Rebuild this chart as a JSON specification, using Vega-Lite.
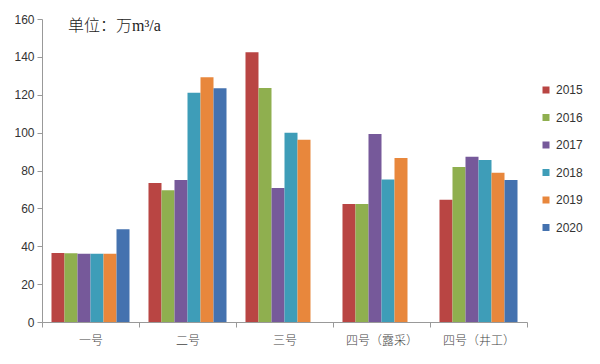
{
  "$schema": "https://vega.github.io/schema/vega-lite/v6.json",
  "width": 485,
  "height": 303,
  "autosize": {"type": "none"},
  "padding": {"left": 42, "top": 19, "right": 73, "bottom": 42},
  "background": "white",
  "title": {
    "text": "单位：万m³/a",
    "anchor": "start",
    "frame": "group",
    "orient": "top",
    "offset": -21,
    "dx": 26,
    "fontSize": 16,
    "fontWeight": 300,
    "font": "Liberation Serif, Noto Sans CJK SC",
    "color": "#222"
  },
  "data": {
    "values": [
      {"mine": "一号", "year": "2015", "value": 36.4},
      {"mine": "一号", "year": "2016", "value": 36.3},
      {"mine": "一号", "year": "2017", "value": 36},
      {"mine": "一号", "year": "2018", "value": 36},
      {"mine": "一号", "year": "2019", "value": 36},
      {"mine": "一号", "year": "2020", "value": 49},
      {"mine": "二号", "year": "2015", "value": 73.4},
      {"mine": "二号", "year": "2016", "value": 69.6},
      {"mine": "二号", "year": "2017", "value": 75},
      {"mine": "二号", "year": "2018", "value": 121},
      {"mine": "二号", "year": "2019", "value": 129.2},
      {"mine": "二号", "year": "2020", "value": 123.4},
      {"mine": "三号", "year": "2015", "value": 142.4},
      {"mine": "三号", "year": "2016", "value": 123.6},
      {"mine": "三号", "year": "2017", "value": 70.8},
      {"mine": "三号", "year": "2018", "value": 100},
      {"mine": "三号", "year": "2019", "value": 96.2},
      {"mine": "四号（露采）", "year": "2015", "value": 62.3},
      {"mine": "四号（露采）", "year": "2016", "value": 62.3},
      {"mine": "四号（露采）", "year": "2017", "value": 99.3},
      {"mine": "四号（露采）", "year": "2018", "value": 75.2},
      {"mine": "四号（露采）", "year": "2019", "value": 86.6},
      {"mine": "四号（井工）", "year": "2015", "value": 64.5},
      {"mine": "四号（井工）", "year": "2016", "value": 81.8},
      {"mine": "四号（井工）", "year": "2017", "value": 87.2},
      {"mine": "四号（井工）", "year": "2018", "value": 85.6},
      {"mine": "四号（井工）", "year": "2019", "value": 78.8},
      {"mine": "四号（井工）", "year": "2020", "value": 75}
    ]
  },
  "mark": {"type": "bar"},
  "encoding": {
    "x": {
      "field": "mine",
      "type": "nominal",
      "sort": null,
      "scale": {"paddingInner": 0, "paddingOuter": 0},
      "axis": {
        "title": null,
        "labelAngle": 0,
        "labelFont": "Noto Sans CJK SC",
        "labelFontSize": 12,
        "labelFontWeight": 300,
        "labelColor": "#444",
        "labelPadding": 8,
        "tickBand": "extent",
        "tickSize": 5,
        "tickColor": "#999",
        "domainColor": "#999"
      }
    },
    "xOffset": {
      "field": "year",
      "type": "nominal",
      "scale": {"paddingInner": 0, "paddingOuter": 0.73}
    },
    "y": {
      "field": "value",
      "type": "quantitative",
      "scale": {"domain": [0, 160], "nice": false},
      "axis": {
        "title": null,
        "values": [0, 20, 40, 60, 80, 100, 120, 140, 160],
        "grid": false,
        "labelFont": "Liberation Sans",
        "labelFontSize": 12,
        "labelColor": "#333",
        "tickSize": 5,
        "tickColor": "#999",
        "domainColor": "#999",
        "labelPadding": 3
      }
    },
    "color": {
      "field": "year",
      "type": "nominal",
      "scale": {
        "domain": ["2015", "2016", "2017", "2018", "2019", "2020"],
        "range": ["#B94543", "#8FAF4F", "#76599A", "#3E9DB8", "#E8873C", "#4472AF"]
      },
      "legend": {
        "title": null,
        "orient": "none",
        "legendX": 498,
        "legendY": 65,
        "symbolType": "square",
        "symbolSize": 49,
        "symbolStrokeWidth": 0,
        "labelFont": "Liberation Sans",
        "labelFontSize": 12,
        "labelColor": "#333",
        "rowPadding": 15.5,
        "labelOffset": 4
      }
    }
  },
  "config": {
    "view": {"stroke": null}
  }
}
